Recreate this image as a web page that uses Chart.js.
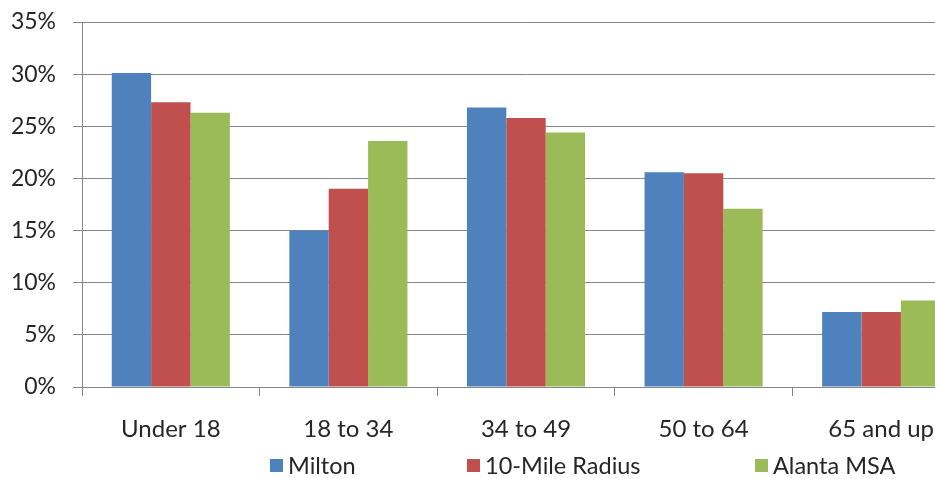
<!DOCTYPE html>
<html>
<head>
<meta charset="utf-8">
<script src="https://cdn.jsdelivr.net/npm/chart.js@4/dist/chart.umd.min.js"></script>
<style>
  html, body { margin: 0; padding: 0; background: #fff; overflow: hidden; width: 935px; height: 479px; }
  #wrap { position: relative; width: 975px; height: 479px; }
</style>
</head>
<body>
<div id="wrap"><canvas id="c" width="975" height="479"></canvas></div>
<script>
// Age distribution by area (share of population)
const categories = ['Under 18', '18 to 34', '34 to 49', '50 to 64', '65 and up'];
const milton = [30.1, 15.0, 26.8, 20.6, 7.2];
const tenMileRadius = [27.3, 19.0, 25.8, 20.5, 7.2];
const atlantaMSA = [26.3, 23.6, 24.4, 17.1, 8.3];
const seriesNames = ['Milton', '10-Mile Radius', 'Alanta MSA'];
const seriesColors = ['#4F81BD', '#C0504D', '#9BBB59'];

const FONT = 'Lato, "Open Sans", sans-serif';
const gridColor = '#878787';
const textColor = '#262626';

// Excel-style legend spread along the bottom
const legendPlugin = {
  id: 'bottomLegend',
  afterDraw(chart) {
    const ctx = chart.ctx;
    const slots = [270, 467, 755];
    ctx.save();
    ctx.font = '23.5px ' + FONT;
    ctx.textBaseline = 'middle';
    chart.data.datasets.forEach((ds, i) => {
      ctx.fillStyle = ds.backgroundColor;
      ctx.fillRect(slots[i], 459, 13, 13);
      ctx.fillStyle = textColor;
      ctx.fillText(ds.label, slots[i] + 18, 466);
    });
    ctx.restore();
  }
};

new Chart(document.getElementById('c'), {
  type: 'bar',
  data: {
    labels: categories,
    datasets: [
      { label: seriesNames[0], data: milton, backgroundColor: seriesColors[0] },
      { label: seriesNames[1], data: tenMileRadius, backgroundColor: seriesColors[1] },
      { label: seriesNames[2], data: atlantaMSA, backgroundColor: seriesColors[2] }
    ]
  },
  options: {
    responsive: false,
    animation: false,
    layout: { padding: { top: 22, right: 5, left: 0, bottom: 0 } },
    datasets: { bar: { categoryPercentage: 0.665, barPercentage: 1.0, borderWidth: 0 } },
    plugins: {
      legend: { display: false },
      tooltip: { enabled: false }
    },
    scales: {
      x: {
        grid: { display: true, drawOnChartArea: false, offset: true, color: gridColor, tickLength: 9, lineWidth: 1 },
        border: { color: gridColor },
        ticks: { color: textColor, font: { family: FONT, size: 24 }, padding: 19, maxRotation: 0 },
        afterFit(s) { s.height = 92; s.paddingLeft = 0; s.paddingRight = 0; }
      },
      y: {
        min: 0, max: 35,
        grid: { color: gridColor, tickLength: 9, lineWidth: 1 },
        border: { color: gridColor },
        ticks: {
          stepSize: 5,
          color: textColor,
          font: { family: FONT, size: 23 },
          padding: 17,
          callback: v => v + '%'
        },
        afterFit(s) { s.width = 82; s.paddingTop = 0; s.paddingBottom = 0; }
      }
    }
  },
  plugins: [legendPlugin]
});
</script>
</body>
</html>
